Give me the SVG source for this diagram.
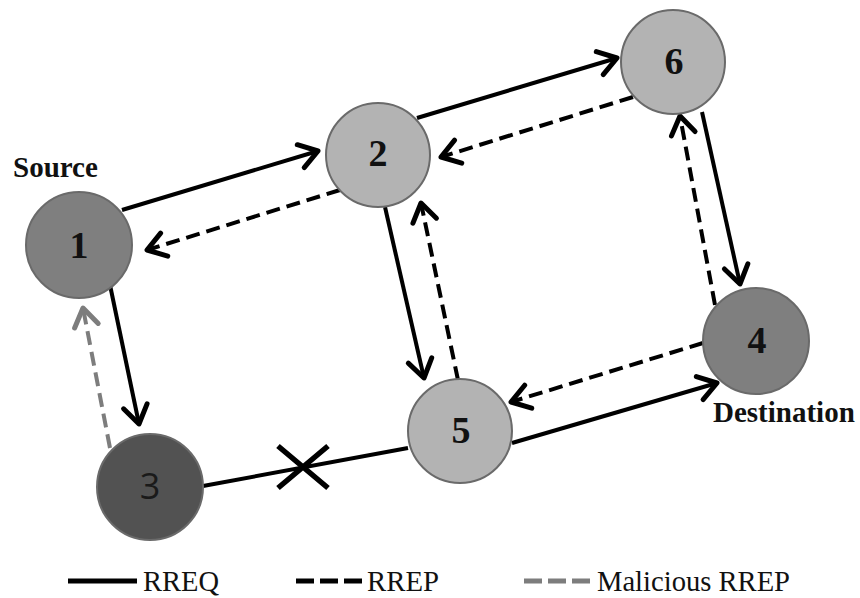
<svg xmlns="http://www.w3.org/2000/svg" width="860" height="598" viewBox="0 0 860 598">
<defs>
<style>
.n circle{stroke:#6a6a6a;stroke-width:2}
.light{fill:#b3b3b3}
.mid{fill:#7f7f7f}
.dark{fill:#525252}
.num{font-family:"Liberation Serif","Times New Roman",serif;font-weight:bold;font-size:38px;fill:#111;text-anchor:middle}
.num3{font-family:"Open Sans","Liberation Sans",sans-serif;font-size:36px;fill:#1a1a1a;text-anchor:middle}
.lbl{font-family:"Liberation Serif","Times New Roman",serif;font-weight:bold;font-size:29px;fill:#111}
.leg{font-family:"Liberation Serif","Times New Roman",serif;font-size:29px;fill:#111}
.s{stroke:#000;stroke-width:4;fill:none}
.d{stroke:#000;stroke-width:4;fill:none;stroke-dasharray:14 7}
.g{stroke:#7d7d7d;stroke-width:4;fill:none;stroke-dasharray:14 7}
</style>
<marker id="ah" viewBox="-26 -16 32 32" refX="0" refY="0" markerWidth="32" markerHeight="32" orient="auto" markerUnits="userSpaceOnUse">
<path d="M-18,-12 L0,0 L-18,12" fill="none" stroke="#000" stroke-width="5" stroke-linecap="round" stroke-linejoin="round"/>
</marker>
<marker id="ahg" viewBox="-26 -16 32 32" refX="0" refY="0" markerWidth="32" markerHeight="32" orient="auto" markerUnits="userSpaceOnUse">
<path d="M-18,-12 L0,0 L-18,12" fill="none" stroke="#7d7d7d" stroke-width="5" stroke-linecap="round" stroke-linejoin="round"/>
</marker>
</defs>
<rect width="860" height="598" fill="#fff"/>

<g id="connectors">
<path class="s" d="M122,210 L318,151" marker-end="url(#ah)"/>
<path class="d" d="M340,190 L147,250" marker-end="url(#ah)"/>
<path class="s" d="M417,118 L617,58" marker-end="url(#ah)"/>
<path class="d" d="M633,97 L441,157" marker-end="url(#ah)"/>
<path class="s" d="M702,112 L740,284" marker-end="url(#ah)"/>
<path class="d" d="M715,305 L680,116" marker-end="url(#ah)"/>
<path class="s" d="M385,207 L424,378" marker-end="url(#ah)"/>
<path class="d" d="M458,380 L421,203" marker-end="url(#ah)"/>
<path class="s" d="M110,285 L139,424" marker-end="url(#ah)"/>
<path class="g" d="M110,448 L83,308" marker-end="url(#ahg)"/>
<path class="s" d="M203,486 L408,448"/>
<path class="s" d="M512,443 L717,383" marker-end="url(#ah)"/>
<path class="d" d="M703,343 L511,402" marker-end="url(#ah)"/>
<path d="M278,446 L328,488 M278,488 L328,446" stroke="#000" stroke-width="5.5" fill="none"/>
</g>

<g id="node1" class="n"><circle class="mid" cx="79" cy="245" r="53"/><text class="num" x="79" y="258">1</text></g>
<g id="node2" class="n"><circle class="light" cx="378" cy="155" r="52"/><text class="num" x="378" y="166">2</text></g>
<g id="node6" class="n"><circle class="light" cx="673" cy="62" r="52"/><text class="num" x="674" y="74">6</text></g>
<g id="node4" class="n"><circle class="mid" cx="756" cy="341" r="53"/><text class="num" x="757" y="353">4</text></g>
<g id="node5" class="n"><circle class="light" cx="460" cy="431" r="52"/><text class="num" x="461" y="443">5</text></g>
<g id="node3" class="n"><circle class="dark" cx="150" cy="487" r="53"/><text class="num3" x="150" y="499">3</text></g>

<text class="lbl" x="13" y="177">Source</text>
<text class="lbl" x="713" y="422">Destination</text>

<g id="legend">
<line x1="68" y1="581" x2="137" y2="581" stroke="#000" stroke-width="5"/>
<text class="leg" x="143" y="591" textLength="76" lengthAdjust="spacingAndGlyphs">RREQ</text>
<line x1="296" y1="581" x2="365" y2="581" stroke="#000" stroke-width="5" stroke-dasharray="18 6"/>
<text class="leg" x="367" y="591" textLength="72" lengthAdjust="spacingAndGlyphs">RREP</text>
<line x1="524" y1="581" x2="592" y2="581" stroke="#7d7d7d" stroke-width="5" stroke-dasharray="18 6"/>
<text class="leg" x="597" y="591" textLength="193" lengthAdjust="spacingAndGlyphs">Malicious RREP</text>
</g>
</svg>
